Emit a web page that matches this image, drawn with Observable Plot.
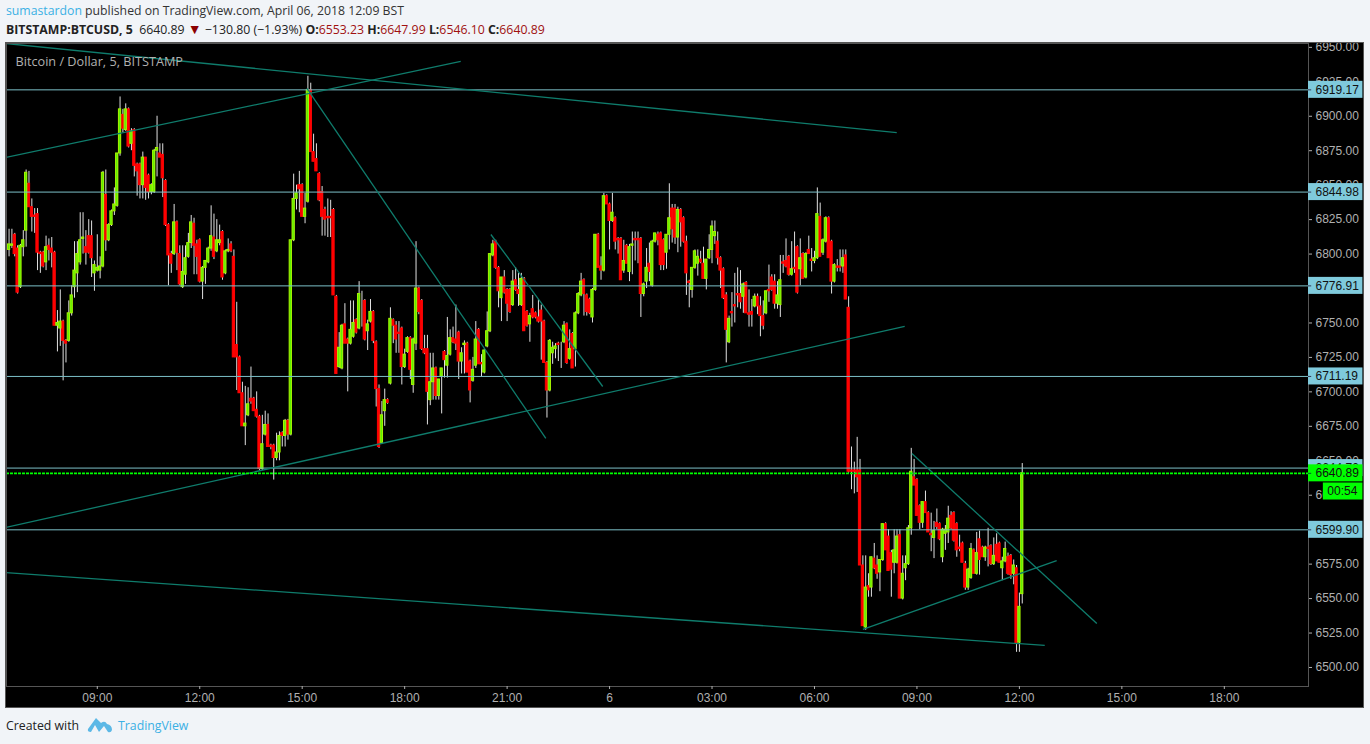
<!DOCTYPE html>
<html>
<head>
<meta charset="utf-8">
<script src="https://cdn.jsdelivr.net/npm/d3@7"></script>
<script src="https://cdn.jsdelivr.net/npm/@observablehq/plot@0.6"></script>
<style>
html,body{margin:0;padding:0;background:#f1f4f8;width:1370px;height:744px;overflow:hidden;font-family:"Open Sans",sans-serif;color:#131722}
#head{position:absolute;left:6px;top:0;height:43px;white-space:nowrap}
#l1{position:absolute;top:2px;left:0;font-size:12.25px;line-height:18px;color:#333}
#l2{position:absolute;top:21px;left:0;font-size:12.3px;line-height:18px;color:#222}
.blue{color:#3bb0e4}.red{color:#a01010}.tri{color:#8b0000;font-size:14px;line-height:14px}
#chart{position:absolute;left:6px;top:43px;width:1357px;height:664px;outline:1px solid #555;background:#000}
#chart svg{display:block;background:#000}
#foot{position:absolute;left:6px;top:716px;font-size:12.3px;line-height:20px;color:#222}
#foot svg{position:absolute;left:81px;top:0}
#foot .tv{position:absolute;left:112px;top:0;color:#3bb0e4;white-space:nowrap}
</style>
</head>
<body>
<div id="head">
<div id="l1"><span class="blue">sumastardon</span> published on TradingView.com, April 06, 2018 12:09 BST</div>
<div id="l2"><b>BITSTAMP:BTCUSD, 5</b>&nbsp; 6640.89 <span class="tri">▼</span> −130.80 (−1.93%) <b>O:</b><span class="red">6553.23</span> <b>H:</b><span class="red">6647.99</span> <b>L:</b><span class="red">6546.10</span> <b>C:</b><span class="red">6640.89</span></div>
</div>
<div id="chart"></div>
<div id="foot">Created with
<svg width="26" height="18" viewBox="0 0 26 18"><path d="M1 13 L9 2 L14 7 Q18 4 20 8 Q25 9 25 14 Q24 17 21 16 L17 10 L12 16 L8 9 L4 16 Q0 16 1 13Z" fill="#5cb8e6"/></svg>
<span class="tv">TradingView</span></div>
<script>
// OHLC series of the 5-minute bars, one bar per entry, ten per line
const opens = [
6803,6806,6814,6804,6776,6805,6817,6851,6834,6828,
6829,6801,6801,6794,6806,6804,6801,6748,6746,6751,
6737,6737,6757,6776,6786,6794,6811,6805,6813,6813,
6786,6788,6788,6791,6843,6810,6821,6831,6835,6873,
6901,6890,6905,6880,6890,6865,6865,6850,6870,6857,
6845,6845,6875,6873,6872,6853,6821,6800,6800,6823,
6800,6776,6785,6798,6808,6822,6807,6810,6780,6790,
6794,6804,6812,6802,6808,6816,6786,6802,6807,6798,
6734,6725,6699,6675,6683,6695,6695,6687,6682,6644,
6669,6676,6661,6661,6652,6656,6670,6668,6679,6669,
6810,6840,6850,6850,6827,6838,6919,6874,6869,6858,
6845,6832,6827,6827,6832,6769,6718,6717,6749,6738,
6735,6740,6752,6746,6761,6766,6744,6751,6758,6736,
6702,6663,6686,6694,6706,6752,6748,6743,6746,6718,
6729,6739,6705,6735,6775,6766,6731,6731,6694,6707,
6717,6697,6711,6729,6719,6727,6739,6738,6743,6722,
6734,6735,6722,6708,6719,6745,6721,6714,6733,6744,
6799,6809,6790,6768,6783,6774,6774,6763,6781,6774,
6763,6782,6758,6749,6760,6757,6754,6759,6751,6721,
6701,6728,6731,6735,6735,6736,6749,6724,6742,6731,
6757,6770,6781,6770,6767,6754,6774,6814,6791,6788,
6842,6836,6824,6826,6811,6811,6788,6806,6787,6806,
6811,6811,6811,6771,6780,6793,6777,6809,6814,6815,
6810,6801,6814,6833,6833,6812,6832,6826,6809,6780,
6774,6790,6793,6796,6793,6782,6797,6803,6813,6809,
6797,6789,6770,6736,6758,6763,6771,6771,6769,6779,
6757,6758,6762,6769,6762,6755,6757,6774,6783,6780,
6764,6763,6794,6795,6798,6785,6790,6805,6789,6800,
6783,6803,6796,6795,6797,6827,6801,6809,6826,6809,
6780,6791,6791,6791,6799,6761,6643,6643,6643,6643,
6574,6529,6559,6558,6579,6574,6569,6578,6604,6595,
6583,6576,6576,6596,6550,6572,6575,6601,6638,6636,
6617,6605,6620,6612,6597,6594,6605,6604,6580,6597,
6598,6610,6612,6604,6587,6590,6575,6558,6565,6585,
6568,6593,6587,6580,6587,6588,6575,6589,6590,6572,
6577,6580,6581,6568,6572,6518,6553.23];
const highs = [
6818,6818,6815,6806,6807,6817,6861,6860,6840,6833,
6833,6802,6802,6813,6811,6812,6802,6759,6774,6752,
6738,6766,6777,6809,6809,6830,6830,6817,6825,6824,
6795,6814,6798,6860,6861,6822,6832,6848,6873,6914,
6905,6909,6906,6891,6891,6866,6866,6874,6870,6858,
6851,6876,6900,6880,6880,6854,6822,6802,6836,6824,
6806,6806,6806,6815,6828,6826,6810,6811,6791,6795,
6805,6835,6829,6825,6821,6817,6803,6811,6809,6803,
6765,6726,6707,6704,6703,6718,6696,6700,6683,6683,
6686,6684,6662,6662,6670,6671,6671,6680,6680,6810,
6858,6850,6860,6851,6844,6929,6924,6887,6880,6859,
6849,6834,6840,6839,6833,6770,6743,6749,6764,6739,
6766,6766,6753,6780,6773,6767,6752,6767,6759,6737,
6705,6693,6702,6695,6761,6753,6751,6751,6747,6731,
6740,6740,6739,6809,6776,6767,6741,6741,6728,6728,
6718,6709,6717,6730,6754,6745,6747,6763,6744,6732,
6737,6736,6723,6725,6751,6746,6727,6731,6758,6800,
6810,6810,6791,6783,6788,6775,6775,6788,6790,6786,
6786,6783,6759,6757,6770,6758,6767,6763,6752,6722,
6738,6736,6735,6736,6736,6751,6750,6745,6743,6758,
6772,6786,6782,6771,6768,6775,6814,6815,6798,6844,
6843,6837,6844,6827,6812,6812,6810,6807,6807,6816,
6816,6816,6812,6779,6804,6808,6810,6815,6816,6816,
6811,6814,6851,6836,6836,6834,6833,6827,6813,6781,
6790,6803,6803,6802,6805,6796,6814,6824,6824,6816,
6798,6790,6772,6755,6772,6786,6790,6788,6779,6780,
6774,6767,6771,6771,6769,6766,6773,6792,6785,6785,
6780,6799,6799,6811,6799,6809,6816,6806,6811,6801,
6801,6813,6804,6802,6848,6837,6811,6827,6827,6810,
6793,6796,6803,6803,6803,6769,6660,6649,6667,6651,
6581,6581,6568,6580,6590,6581,6578,6604,6605,6600,
6585,6600,6600,6600,6581,6581,6603,6659,6651,6637,
6618,6620,6628,6613,6612,6606,6615,6605,6601,6603,
6617,6613,6613,6605,6596,6591,6577,6572,6590,6586,
6598,6599,6588,6588,6601,6589,6594,6597,6591,6580,
6591,6583,6582,6578,6574,6554,6647.99];
const lows = [
6798,6804,6798,6771,6775,6798,6805,6834,6816,6815,
6788,6786,6790,6788,6795,6790,6748,6729,6733,6708,
6721,6736,6755,6768,6772,6792,6800,6792,6800,6783,
6773,6787,6782,6790,6802,6809,6820,6828,6834,6871,
6888,6889,6877,6875,6856,6842,6840,6840,6839,6840,
6843,6844,6856,6870,6841,6820,6777,6786,6799,6788,
6777,6775,6778,6797,6804,6785,6785,6779,6767,6778,
6793,6802,6796,6801,6806,6781,6785,6801,6801,6725,
6701,6699,6675,6661,6682,6691,6686,6681,6643,6643,
6668,6660,6658,6636,6650,6650,6660,6660,6665,6668,
6809,6832,6830,6827,6822,6837,6874,6867,6860,6838,
6813,6813,6812,6812,6770,6713,6717,6716,6735,6700,
6734,6739,6742,6745,6747,6737,6730,6750,6735,6689,
6659,6662,6675,6691,6705,6735,6728,6728,6705,6717,
6728,6709,6699,6730,6756,6730,6727,6676,6690,6694,
6694,6694,6684,6710,6710,6726,6735,6730,6709,6713,
6713,6714,6692,6707,6717,6720,6711,6713,6732,6743,
6798,6789,6761,6751,6771,6751,6757,6762,6773,6762,
6762,6744,6747,6736,6753,6753,6750,6723,6721,6681,
6700,6720,6724,6722,6717,6735,6720,6723,6717,6718,
6756,6769,6755,6755,6756,6750,6773,6790,6781,6787,
6836,6803,6823,6803,6800,6781,6786,6793,6780,6785,
6795,6793,6754,6769,6775,6780,6776,6808,6806,6788,
6788,6789,6803,6808,6807,6801,6805,6808,6770,6761,
6768,6789,6784,6793,6782,6774,6796,6793,6807,6792,
6775,6767,6721,6735,6747,6750,6761,6760,6757,6757,
6747,6747,6761,6756,6740,6745,6756,6765,6773,6760,
6760,6754,6786,6790,6784,6784,6786,6771,6777,6782,
6782,6800,6787,6793,6796,6798,6799,6808,6797,6771,
6779,6787,6787,6786,6767,6641,6629,6626,6627,6574,
6530,6527,6551,6551,6571,6564,6555,6577,6585,6570,
6551,6568,6575,6550,6549,6563,6574,6596,6632,6610,
6600,6601,6612,6598,6584,6579,6600,6592,6576,6585,
6590,6600,6591,6580,6584,6576,6556,6556,6564,6568,
6567,6567,6580,6577,6573,6574,6574,6577,6576,6563,
6576,6567,6564,6560,6511,6511,6546.10];
const closes = [
6807,6807,6800,6772,6806,6810,6859,6834,6827,6827,
6801,6800,6791,6805,6803,6801,6748,6750,6751,6737,
6735,6757,6770,6788,6800,6810,6812,6801,6801,6797,
6792,6790,6791,6859,6810,6821,6831,6836,6873,6905,
6891,6905,6878,6889,6864,6860,6850,6870,6848,6845,
6850,6875,6877,6870,6855,6821,6799,6793,6823,6801,
6778,6787,6797,6808,6823,6806,6798,6780,6790,6795,
6804,6813,6798,6810,6810,6783,6802,6803,6802,6725,
6725,6699,6675,6677,6691,6693,6686,6682,6644,6662,
6676,6660,6660,6652,6656,6668,6668,6679,6669,6810,
6840,6844,6847,6827,6833,6919,6874,6867,6860,6839,
6827,6825,6826,6826,6770,6713,6732,6748,6735,6735,
6745,6750,6743,6771,6761,6738,6749,6758,6737,6702,
6660,6683,6694,6692,6753,6748,6738,6742,6718,6727,
6739,6716,6738,6775,6758,6731,6728,6700,6707,6717,
6697,6709,6717,6723,6726,6739,6736,6735,6722,6728,
6735,6714,6701,6716,6738,6720,6720,6730,6744,6800,
6807,6790,6773,6783,6772,6764,6758,6780,6774,6771,
6782,6744,6748,6755,6754,6754,6751,6751,6721,6701,
6737,6732,6733,6734,6735,6748,6721,6731,6717,6757,
6771,6780,6771,6758,6757,6774,6814,6790,6788,6842,
6836,6824,6830,6809,6810,6781,6795,6793,6805,6807,
6810,6810,6771,6778,6790,6787,6809,6815,6810,6792,
6792,6814,6826,6818,6812,6832,6823,6809,6786,6779,
6790,6802,6798,6794,6782,6796,6803,6820,6816,6797,
6788,6768,6745,6753,6757,6762,6770,6765,6778,6757,
6756,6756,6769,6762,6755,6748,6773,6773,6774,6764,
6770,6781,6793,6791,6785,6789,6789,6772,6797,6782,
6800,6800,6795,6797,6829,6798,6810,6826,6797,6780,
6792,6790,6790,6797,6767,6642,6642,6642,6638,6574,
6530,6558,6556,6580,6572,6568,6578,6604,6585,6570,
6571,6585,6595,6550,6568,6575,6601,6642,6632,6610,
6605,6620,6612,6598,6596,6599,6602,6593,6600,6600,
6608,6601,6592,6585,6586,6576,6558,6571,6586,6568,
6583,6578,6580,6587,6586,6575,6581,6577,6576,6577,
6586,6568,6567,6574,6517,6544,6640.89];

// axis content
const priceTicks = [6500,6525,6550,6575,6600,6625,6650,6675,6700,6725,6750,6775,6800,6825,6850,6875,6900,6925,6950];
const timeTickHours = [0,3,6,9,12,15,18,21,24,27,30,33]; // hours after 5 April 09:00
const timeTickLabels = ["09:00","12:00","15:00","18:00","21:00","6","03:00","06:00","09:00","12:00","15:00","18:00"];

// horizontal levels and their price tags
const levels = [6919.17,6844.98,6776.91,6711.19,6644.7,6599.90];
const levelLabels = ["6919.17","6844.98","6776.91","6711.19","6644.70","6599.90"];
const lastPrice = 6640.89;
const countdownPrice = 6627.7;
const countdownLabel = "00:54";

// sloping trend lines: start bar, start price, end bar, end price (bars counted from 5 April 09:00)
const trendBar1 = [-32.07,-32.07,73.66,138.3,-32.07,-32.07,269.0,286.2];
const trendPrice1 = [6952.8,6870.1,6920.2,6814.2,6601.6,6568.9,6527.6,6655.3];
const trendBar2 = [280.9,127.7,157.6,177.6,283.7,332.9,337.1,351.2];
const trendPrice2 = [6888.2,6939.8,6666.2,6703.9,6747.5,6516.0,6577.6,6531.9];

const firstBar = -31;
const base = Date.UTC(2018,3,5,9,0);
const atBar = k => new Date(base + k*5*60000);

const bars = opens.map((o,i)=>({t:atBar(firstBar+i),o,h:highs[i],l:lows[i],c:closes[i],up:closes[i]>=o}));
const xMin = atBar(-31.9), xMax = atBar(425.58), xTag = atBar(444.7), xTagTick=atBar(426.7), xCountL = atBar(430.8);
const halfBody = 2*60000;
const tickDates = timeTickHours.map(h=>new Date(base+h*3600000));
const trends = trendBar1.map((b,i)=>({x1:atBar(b),y1:trendPrice1[i],x2:atBar(trendBar2[i]),y2:trendPrice2[i]}));
const tags = levels.map((p,i)=>({p,label:levelLabels[i]}));
const up = bars.filter(b=>b.up), down = bars.filter(b=>!b.up);
const bodyOpts = {x1:d=>new Date(+d.t-halfBody),x2:d=>new Date(+d.t+halfBody),y1:"o",y2:"c",strokeWidth:1};
const tagH = 6.17;
const labelFont = {fontSize:12,fontFamily:"'Liberation Sans',Arial,sans-serif"};

const plot = Plot.plot({
  width:1357,height:664,marginLeft:0,marginRight:55,marginTop:0,marginBottom:21,
  style:{background:"#000",fontFamily:"'Liberation Sans',Arial,sans-serif",fontSize:"12px",overflow:"hidden"},
  x:{type:"utc",domain:[xMin,xMax]},
  y:{domain:[6486.2,6952.8]},
  marks:[
    Plot.ruleX(bars,{x:"t",y1:"l",y2:"h",stroke:"#e0e0e0",strokeWidth:1}),
    Plot.rect(down,{...bodyOpts,fill:"#ff0000",stroke:"#ff0000"}),
    Plot.rect(up,{...bodyOpts,fill:"#5cf000",stroke:"#a8f400"}),
    Plot.ruleY(levels,{y:d=>d,stroke:"#7cc0c8",strokeWidth:1}),
    Plot.link(trends,{x1:"x1",y1:"y1",x2:"x2",y2:"y2",stroke:"#0f7c6c",strokeWidth:1.3,clip:true}),
    Plot.ruleY([lastPrice],{stroke:"#00ff00",strokeWidth:1.6,strokeDasharray:"3,1"}),
    Plot.frame({stroke:"#555"}),
    Plot.text(["Bitcoin / Dollar, 5, BITSTAMP"],{frameAnchor:"top-left",dx:9,dy:13,textAnchor:"start",fill:"#b0b0b0",fontSize:12.7,fontFamily:"'Open Sans',sans-serif"}),
    Plot.axisX({ticks:tickDates,tickFormat:(d,i)=>timeTickLabels[i],tickSize:3,tickPadding:4,color:"#b0b0b0",label:null,...labelFont,anchor:"bottom"}),
    Plot.axisY({ticks:priceTicks,tickFormat:".2f",tickSize:3,tickPadding:4,color:"#b0b0b0",label:null,anchor:"right",...labelFont}),
    Plot.rect(tags,{x1:xMax,x2:xTag,y1:d=>d.p-tagH,y2:d=>d.p+tagH,fill:"#7fcadc"}),
    Plot.ruleY(tags,{y:"p",x1:xMax,x2:xTagTick,stroke:"#335"}),
    Plot.text(tags,{x:xMax,y:"p",text:"label",dx:7,textAnchor:"start",fill:"#111",...labelFont}),
    Plot.rect([lastPrice],{x1:xMax,x2:xTag,y1:d=>d-tagH,y2:d=>d+tagH,fill:"#00ff00"}),
    Plot.ruleY([lastPrice],{x1:xMax,x2:xTagTick,stroke:"#053"}),
    Plot.text([lastPrice],{x:xMax,y:d=>d,text:d=>d.toFixed(2),dx:7,textAnchor:"start",fill:"#111",...labelFont}),
    Plot.rect([countdownPrice],{x1:xCountL,x2:xTag,y1:d=>d-tagH,y2:d=>d+tagH,fill:"#00ff00"}),
    Plot.text([countdownPrice],{x:xCountL,y:d=>d,text:()=>countdownLabel,dx:4,textAnchor:"start",fill:"#111",...labelFont})
  ]
});
document.getElementById("chart").appendChild(plot);
</script>
</body>
</html>
